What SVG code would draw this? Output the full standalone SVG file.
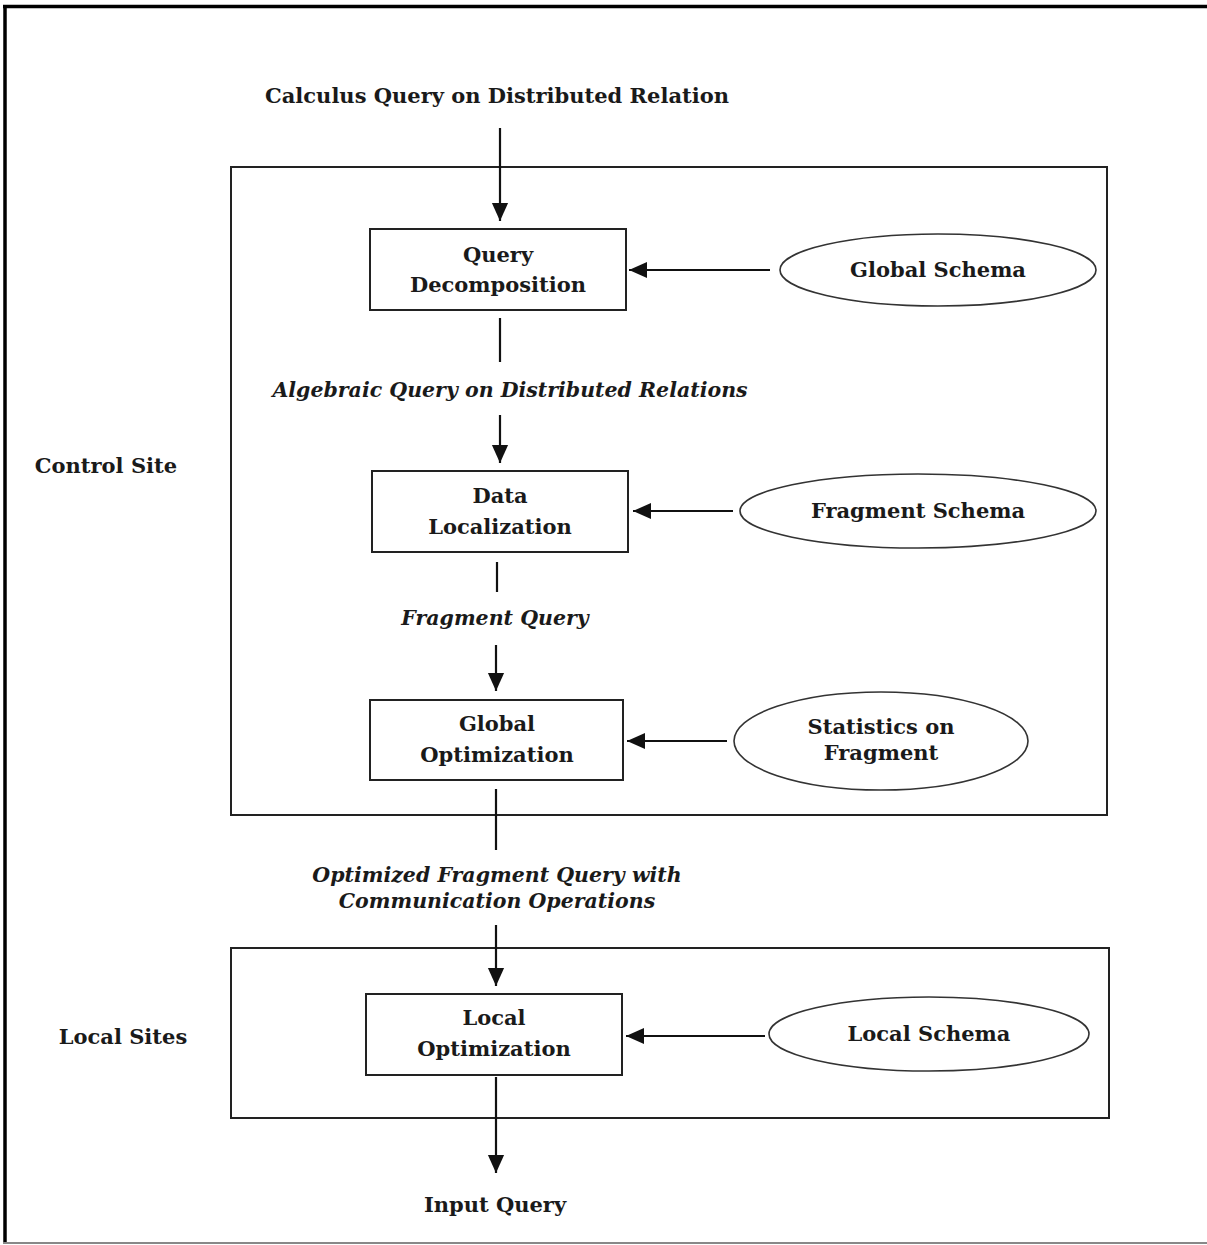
<svg xmlns="http://www.w3.org/2000/svg" width="1207" height="1245" viewBox="0 0 1207 1245">
<style>
.b{font-family:"DejaVu Serif","Liberation Serif",serif;font-weight:bold;font-size:21px;fill:#1a1a1a;text-anchor:middle}
.i{font-family:"DejaVu Serif","Liberation Serif",serif;font-weight:bold;font-style:italic;font-size:20.5px;fill:#1a1a1a;text-anchor:middle}
.box{fill:none;stroke:#222;stroke-width:2}
.ell{fill:none;stroke:#333;stroke-width:1.6}
.ln{stroke:#111;stroke-width:2.2;fill:none}
</style>
<defs>
<marker id="ahb" viewBox="0 0 10 10" refX="10" refY="5" markerWidth="18" markerHeight="18" orient="auto" markerUnits="userSpaceOnUse">
<path d="M0,0.5 L10,5 L0,9.5 z" fill="#111"/>
</marker>
</defs>
<rect width="1207" height="1245" fill="#fff"/>
<g id="frame">
<line x1="3" y1="6.5" x2="1207" y2="6.5" stroke="#000" stroke-width="3.5"/>
<line x1="5" y1="5" x2="5" y2="1243" stroke="#000" stroke-width="3.5"/>
<line x1="3" y1="1243" x2="1207" y2="1243" stroke="#888" stroke-width="2"/>
</g>
<g id="control-site">
<rect class="box" x="231" y="167" width="876" height="648"/>
<text class="b" x="106" y="473">Control Site</text>
</g>
<g id="local-sites">
<rect class="box" x="231" y="948" width="878" height="170"/>
<text class="b" x="123" y="1044">Local Sites</text>
</g>
<g id="calculus-query"><text class="b" x="497" y="103">Calculus Query on Distributed Relation</text></g>
<g id="query-decomposition">
<rect class="box" x="370" y="229" width="256" height="81"/>
<text class="b" x="498" y="262">Query</text>
<text class="b" x="498" y="292">Decomposition</text>
</g>
<g id="global-schema">
<ellipse class="ell" cx="938" cy="270" rx="158" ry="36"/>
<text class="b" x="938" y="277">Global Schema</text>
</g>
<g id="algebraic-query"><text class="i" x="510" y="397">Algebraic Query on Distributed Relations</text></g>
<g id="data-localization">
<rect class="box" x="372" y="471" width="256" height="81"/>
<text class="b" x="500" y="503">Data</text>
<text class="b" x="500" y="534">Localization</text>
</g>
<g id="fragment-schema">
<ellipse class="ell" cx="918" cy="511" rx="178" ry="37"/>
<text class="b" x="918" y="518">Fragment Schema</text>
</g>
<g id="fragment-query"><text class="i" x="495" y="625">Fragment Query</text></g>
<g id="global-optimization">
<rect class="box" x="370" y="700" width="253" height="80"/>
<text class="b" x="497" y="731">Global</text>
<text class="b" x="497" y="762">Optimization</text>
</g>
<g id="statistics-on-fragment">
<ellipse class="ell" cx="881" cy="741" rx="147" ry="49"/>
<text class="b" x="881" y="734">Statistics on</text>
<text class="b" x="881" y="760">Fragment</text>
</g>
<g id="optimized-query">
<text class="i" x="497" y="882">Optimized Fragment Query with</text>
<text class="i" x="497" y="908">Communication Operations</text>
</g>
<g id="local-optimization">
<rect class="box" x="366" y="994" width="256" height="81"/>
<text class="b" x="494" y="1025">Local</text>
<text class="b" x="494" y="1056">Optimization</text>
</g>
<g id="local-schema">
<ellipse class="ell" cx="929" cy="1034" rx="160" ry="37"/>
<text class="b" x="929" y="1041">Local Schema</text>
</g>
<g id="input-query"><text class="b" x="495" y="1212">Input Query</text></g>
<g id="connectors">
<line class="ln" x1="500" y1="128" x2="500" y2="221" marker-end="url(#ahb)"/>
<line class="ln" x1="770" y1="270" x2="629" y2="270" marker-end="url(#ahb)"/>
<line class="ln" x1="500" y1="318" x2="500" y2="362"/>
<line class="ln" x1="500" y1="415" x2="500" y2="463" marker-end="url(#ahb)"/>
<line class="ln" x1="733" y1="511" x2="633" y2="511" marker-end="url(#ahb)"/>
<line class="ln" x1="497" y1="562" x2="497" y2="592"/>
<line class="ln" x1="496" y1="645" x2="496" y2="691" marker-end="url(#ahb)"/>
<line class="ln" x1="727" y1="741" x2="627" y2="741" marker-end="url(#ahb)"/>
<line class="ln" x1="496" y1="789" x2="496" y2="850"/>
<line class="ln" x1="496" y1="925" x2="496" y2="986" marker-end="url(#ahb)"/>
<line class="ln" x1="765" y1="1036" x2="626" y2="1036" marker-end="url(#ahb)"/>
<line class="ln" x1="496" y1="1077" x2="496" y2="1173" marker-end="url(#ahb)"/>
</g>
</svg>
